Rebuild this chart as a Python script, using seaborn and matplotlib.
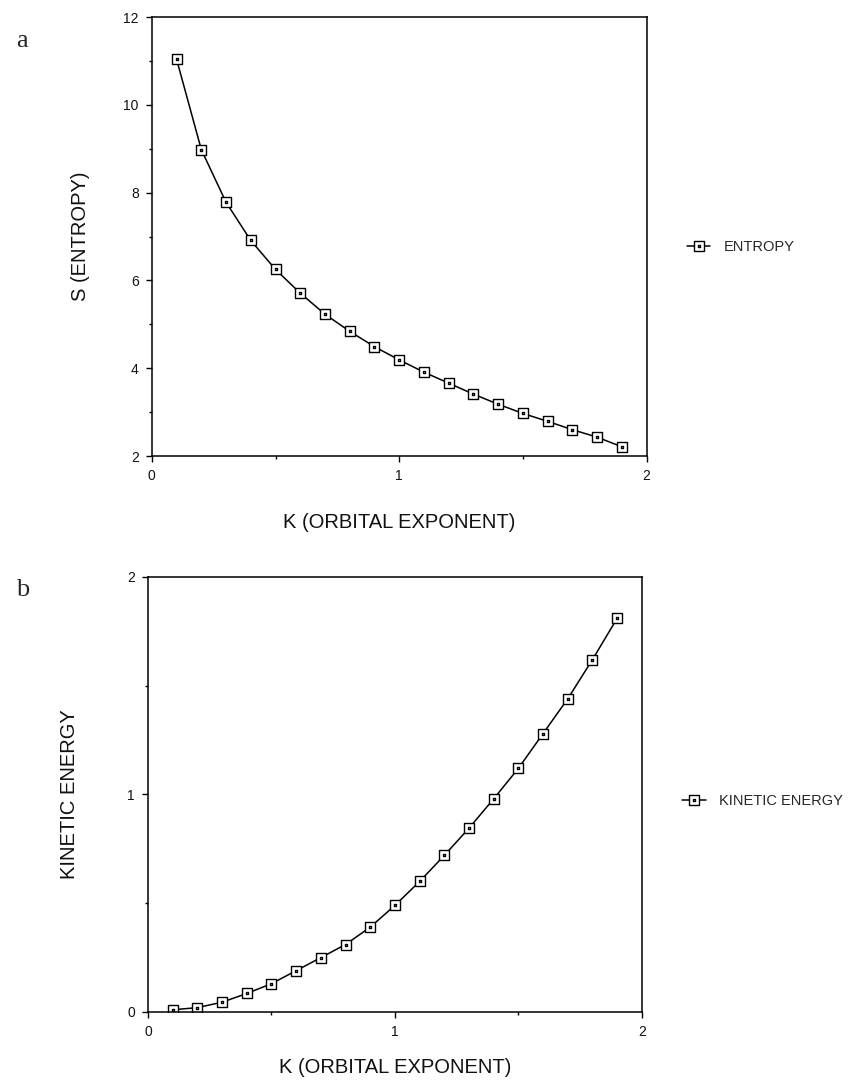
import numpy as np
import pandas as pd
import matplotlib
matplotlib.use("Agg")
import matplotlib.pyplot as plt
from matplotlib.path import Path
from matplotlib.lines import Line2D
from matplotlib.ticker import MultipleLocator
import seaborn as sns

# ---- data ----
k_values = [0.1, 0.2, 0.3, 0.4, 0.5, 0.6, 0.7, 0.8, 0.9, 1.0,
            1.1, 1.2, 1.3, 1.4, 1.5, 1.6, 1.7, 1.8, 1.9]
entropy = [11.04, 8.98, 7.78, 6.91, 6.25, 5.71, 5.23, 4.84, 4.49, 4.19,
           3.91, 3.66, 3.41, 3.18, 2.97, 2.79, 2.60, 2.43, 2.21]
kinetic = [0.01, 0.02, 0.045, 0.085, 0.13, 0.19, 0.25, 0.31, 0.39, 0.49,
           0.60, 0.72, 0.845, 0.98, 1.12, 1.28, 1.44, 1.62, 1.81]

x_label = "K (ORBITAL EXPONENT)"
y_label_a = "S (ENTROPY)"
y_label_b = "KINETIC ENERGY"
legend_a = "ENTROPY"
legend_b = "KINETIC ENERGY"
x_ticks = [0, 1, 2]
y_ticks_a = [2, 4, 6, 8, 10, 12]
y_ticks_b = [0, 1, 2]

df_a = pd.DataFrame({"K": k_values, "S": entropy})
df_b = pd.DataFrame({"K": k_values, "T": kinetic})

sns.set_style("ticks")
plt.rcParams["font.family"] = ["Liberation Sans", "DejaVu Sans"]

# square marker with a dot in the centre
verts = [(-1, -1), (1, -1), (1, 1), (-1, 1), (-1, -1),
         (-0.12, -0.12), (0.12, -0.12), (0.12, 0.12), (-0.12, 0.12), (-0.12, -0.12)]
codes = [Path.MOVETO, Path.LINETO, Path.LINETO, Path.LINETO, Path.CLOSEPOLY,
         Path.MOVETO, Path.LINETO, Path.LINETO, Path.LINETO, Path.CLOSEPOLY]
sq_dot = Path(verts, codes)

fig = plt.figure(figsize=(8.53, 10.85), dpi=100)
ax_a = fig.add_axes([0.178, 0.5797, 0.580, 0.4046])
ax_b = fig.add_axes([0.1735, 0.0673, 0.579, 0.401])

line_kw = dict(color="black", linewidth=1.1, marker=sq_dot, markersize=6.5,
               markerfacecolor="white", markeredgecolor="black", markeredgewidth=1.0)

sns.lineplot(data=df_a, x="K", y="S", ax=ax_a, **line_kw)
sns.lineplot(data=df_b, x="K", y="T", ax=ax_b, **line_kw)

def style(ax, yticks, ylabel, ylab_x, xlab_y, minor_y):
    ax.set_xlim(0, 2)
    ax.set_ylim(yticks[0], yticks[-1])
    ax.set_xticks(x_ticks)
    ax.set_yticks(yticks)
    ax.xaxis.set_minor_locator(MultipleLocator(0.5))
    ax.yaxis.set_minor_locator(MultipleLocator(minor_y))
    ax.tick_params(which="major", direction="out", length=4.5, width=1.0,
                   labelsize=10, pad=5, color="black", labelcolor="#111111")
    ax.tick_params(which="minor", direction="out", length=2.5, width=1.0, color="black")
    for sp in ax.spines.values():
        sp.set_visible(True)
        sp.set_linewidth(1.1)
        sp.set_color("black")
    ax.set_xlabel(x_label, fontsize=14.5, color="#111111")
    ax.set_ylabel(ylabel, fontsize=14.5, color="#111111")
    ax.xaxis.set_label_coords(0.5, xlab_y)
    ax.xaxis.label.set_va("center")
    ax.yaxis.set_label_coords(ylab_x, 0.5)
    ax.yaxis.label.set_va("center")

style(ax_a, y_ticks_a, y_label_a, -0.145, -0.152, 1)
style(ax_b, y_ticks_b, y_label_b, -0.158, -0.128, 0.5)

def add_legend(ax, label, ypos):
    h = Line2D([], [], **line_kw)
    ax.legend([h], [label], loc="center left", bbox_to_anchor=(1.07, ypos),
              frameon=False, fontsize=10.5, handlelength=1.6, handletextpad=0.9,
              borderaxespad=0)

add_legend(ax_a, legend_a, 0.476)
add_legend(ax_b, legend_b, 0.485)

fig.text(0.019, 0.962, "a", fontsize=19, family=["Liberation Serif", "DejaVu Serif"],
         ha="left", va="center")
fig.text(0.019, 0.456, "b", fontsize=19, family=["Liberation Serif", "DejaVu Serif"],
         ha="left", va="center")

fig.savefig("out.png", dpi=100, facecolor="white")
